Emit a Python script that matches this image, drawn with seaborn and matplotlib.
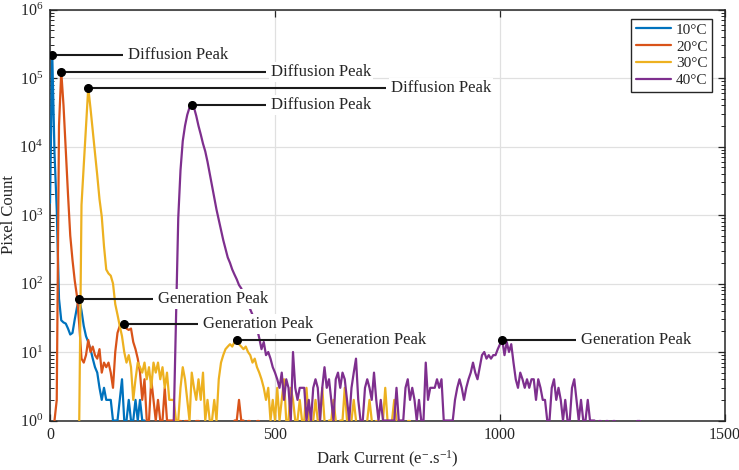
import numpy as np
import pandas as pd
import matplotlib
matplotlib.use("Agg")
import matplotlib.pyplot as plt
import seaborn as sns
from matplotlib.ticker import LogLocator, NullLocator, NullFormatter, LogFormatterMathtext

nan = np.nan

# ---------------- data ----------------
BIN = 5  # bin width of dark-current histogram (e-/s)
temps = ["10°C", "20°C", "30°C", "40°C"]
colors = ["#0072BD", "#D95319", "#EDB120", "#7E2F8E"]

start_10 = 0
counts_10 = [1500, 220000, 8000, 1200, 60, 29, 27, 26, 22, 18,
             19, 30, 45, 59, 40, 24, 17, 14, 11, 8,
             6, 5, 3, 2, 3, 2, 2, 2, 1, 1,
             1, 2, 4, 1, 1, 2, 1, 1, 2, 1,
             2, 1, 1]

start_20 = 0
counts_20 = [nan, nan, 1, 2, 20000, 124000, 40000, 9000, 2000, 500,
             220, 110, 65, 25, 8, 7, 9, 15, 10, 12,
             9, 8, 11, 5, 7, 6, 7, 5, 3, 10,
             19, 24, 25, 26, 22, 21, 22, 14, 11, 8,
             5, 2, 4, 1, 1, 4, 2, 1, 2, 1,
             1, 3, 1, 1, 1, 1, nan, 1, 1, nan,
             1, 1, 1, nan, nan, 1, 1, nan, nan, nan,
             nan, nan, nan, nan, nan, nan, nan, nan, nan, nan,
             nan, nan, 1, 1, 2, 1, 1, nan, 1, 1,
             nan, nan, 1, 1, nan, nan, nan]

start_30 = 60
counts_30 = [nan, 1, 1400, 5300, 19500, 72000, 36000, 17000, 8000, 3800,
             1700, 950, 350, 160, 140, 130, 100, 50, 35, 24,
             17, 10, 7, 9, 6, 2, 4, 7, 6, 5,
             7, 4, 6, 3, 7, 5, 7, 4, 6, 3,
             5, 2, 2, 2, 1, 1, 3, 6, 4, 2,
             1, 5, 3, 2, 4, 2, 5, 1, 2, 1,
             1, 2, 1, 4, 7, 9, 11, 12, 13, 12,
             14, 15, 13, 12, 11, 12, 10, 9, 7, 8,
             6, 5, 4, 3, 2, 3, 1, 2, 1, 3,
             1, 2, 4, 1, 1, 3, 2, 1, 1, 2,
             1, 1, 3, 1, nan, 1, 2, 1, 1, 3,
             1, nan, 1, 1, 2, 1, nan, 1, 1, 3,
             1, nan, 1, 2, 1, nan, 1, 1, nan, 1,
             2, 1, nan, 1, 1, nan, 1, 3, 1, nan,
             1, 2, 1, nan, 1, 1, nan, 1, 1]

start_40 = 275
counts_40 = [1, 30, 900, 4500, 12000, 20000, 29000, 37000, 41000, 37000,
             28000, 20000, 15000, 11000, 8500, 6000, 4000, 2700, 1800, 1200,
             850, 600, 430, 320, 240, 200, 160, 135, 115, 95,
             85, 70, 60, 50, 42, 35, 28, 22, 16, 11,
             14, 9, 10, 8, 6, 5, 4, 3, 5, 2,
             4, 3, 1, 10, 3, 2, 3, 3, 3, 1,
             2, 1, 3, 4, 3, 1, 3, 6, 3, 4,
             2, 1, 4, 5, 3, 5, 4, 2, 1, 3,
             5, 8, 2, 1, 1, 3, 4, 3, 2, 5,
             2, 1, 2, 1, 1, 1, 1, 1, 1, 3,
             1, 1, 1, 3, 4, 2, 3, 2, 1, 2,
             1, 1, 7, 2, 3, 3, 3, 4, 3, 4,
             1, 1, 1, 1, 1, 2, 3, 4, 3, 2,
             3, 4, 5, 7, 5, 4, 6, 9, 10, 8,
             9, 8, 9, 9, 11, 13, 15, 9, 14, 10,
             13, 7, 4, 3, 5, 4, 3, 4, 3, 4,
             4, 2, 4, 3, 2, 2, 1, 1, 3, 4,
             2, 3, 2, 1, 2, 1, 1, 3, 4, 2,
             1, 2, 1, 1, 2, 1, 1, 1, nan, 1,
             1, nan, 1, 1, nan, 1, 1, nan, nan, nan,
             nan, nan, nan, nan, nan, nan, 1, 1]

starts = [start_10, start_20, start_30, start_40]
counts = [counts_10, counts_20, counts_30, counts_40]

# generation peak locations (dark current)
gen_peak_x = [65, 165, 415, 1005]
# where annotation leader lines end (text starts just after)
diff_label_x = [162, 480, 747, 480]
gen_label_x = [229, 329, 580, 1169]
label_diff = "Diffusion Peak"
label_gen = "Generation Peak"

# ---------------- build long table ----------------
rows = []
for t, s, c in zip(temps, starts, counts):
    seg = 0
    prev_nan = True
    for i, v in enumerate(c):
        x = s + BIN * i
        if np.isnan(v):
            prev_nan = True
            continue
        if prev_nan:
            seg += 1
            prev_nan = False
        rows.append({"dc": x, "count": v, "temp": t, "seg": f"{t}-{seg}"})
df = pd.DataFrame(rows)

# ---------------- style ----------------
sns.set_style("ticks")
plt.rcParams["font.family"] = ["Liberation Serif", "DejaVu Serif"]
plt.rcParams["mathtext.fontset"] = "custom"
plt.rcParams["mathtext.rm"] = "Liberation Serif"
plt.rcParams["mathtext.it"] = "Liberation Serif:italic"
plt.rcParams["mathtext.bf"] = "Liberation Serif:bold"

fig = plt.figure(figsize=(7.39, 4.70), dpi=100)
ax = fig.add_axes([50 / 739, 49.5 / 470, 675 / 739, 411 / 470])
ax.set_yscale("log")

sns.lineplot(data=df, x="dc", y="count", hue="temp", units="seg",
             estimator=None, sort=False, hue_order=temps, palette=colors,
             linewidth=1.6, ax=ax, zorder=3)

ax.set_xlim(0, 1500)
ax.set_ylim(1, 1e6)
ax.set_xticks([0, 500, 1000, 1500])
ax.xaxis.set_minor_locator(NullLocator())
ax.yaxis.set_major_locator(LogLocator(base=10, numticks=10))
ax.yaxis.set_major_formatter(LogFormatterMathtext())
ax.yaxis.set_minor_locator(LogLocator(base=10, subs=np.arange(2, 10), numticks=20))
ax.yaxis.set_minor_formatter(NullFormatter())

ax.grid(True, which="major", color="#e0e0e0", linewidth=0.9)
ax.set_axisbelow(True)
for sp in ax.spines.values():
    sp.set_color("#262626")
    sp.set_linewidth(1.1)
ax.tick_params(which="both", direction="in", top=True, right=True,
               colors="#262626", labelcolor="#262626", labelsize=11.5)
ax.tick_params(which="major", length=5, width=0.9, pad=5)
ax.tick_params(which="minor", length=3, width=0.7)

ax.set_xlabel("Dark Current (e$^{-}$.s$^{-1}$)", fontsize=12, color="#262626", labelpad=4)
ax.set_ylabel("Pixel Count", fontsize=12, color="#262626", labelpad=2)

# ---------------- annotations ----------------
def annotate(px, py, lx, text):
    ax.plot([px, lx], [py, py], color="#1a1a1a", lw=1.5, zorder=6, solid_capstyle="butt")
    ax.plot([px], [py], "o", color="black", ms=5.5, zorder=7)
    ax.annotate(text, xy=(lx, py), xytext=(3.5, 0), textcoords="offset points",
                ha="left", va="center", fontsize=12, color="#262626", zorder=5,
                bbox=dict(boxstyle="square,pad=0.12", fc="white", ec="none"))

for s, c, lx in zip(starts, counts, diff_label_x):
    arr = np.array(c, dtype=float)
    i = int(np.nanargmax(arr))
    annotate(s + BIN * i, arr[i], lx, label_diff)

for s, c, gx, lx in zip(starts, counts, gen_peak_x, gen_label_x):
    i = (gx - s) // BIN
    annotate(gx, c[i], lx, label_gen)

handles, labels = ax.get_legend_handles_labels()
leg = ax.legend(handles, labels, loc="upper right", bbox_to_anchor=(0.981, 0.978),
                borderaxespad=0, frameon=True, fancybox=False, framealpha=1,
                edgecolor="#262626", fontsize=11, handlelength=2.3,
                handletextpad=0.35, labelspacing=0.2, borderpad=0.3)
leg.get_frame().set_linewidth(1.0)
leg.set_zorder(10)

fig.savefig("out.png", dpi=100)
